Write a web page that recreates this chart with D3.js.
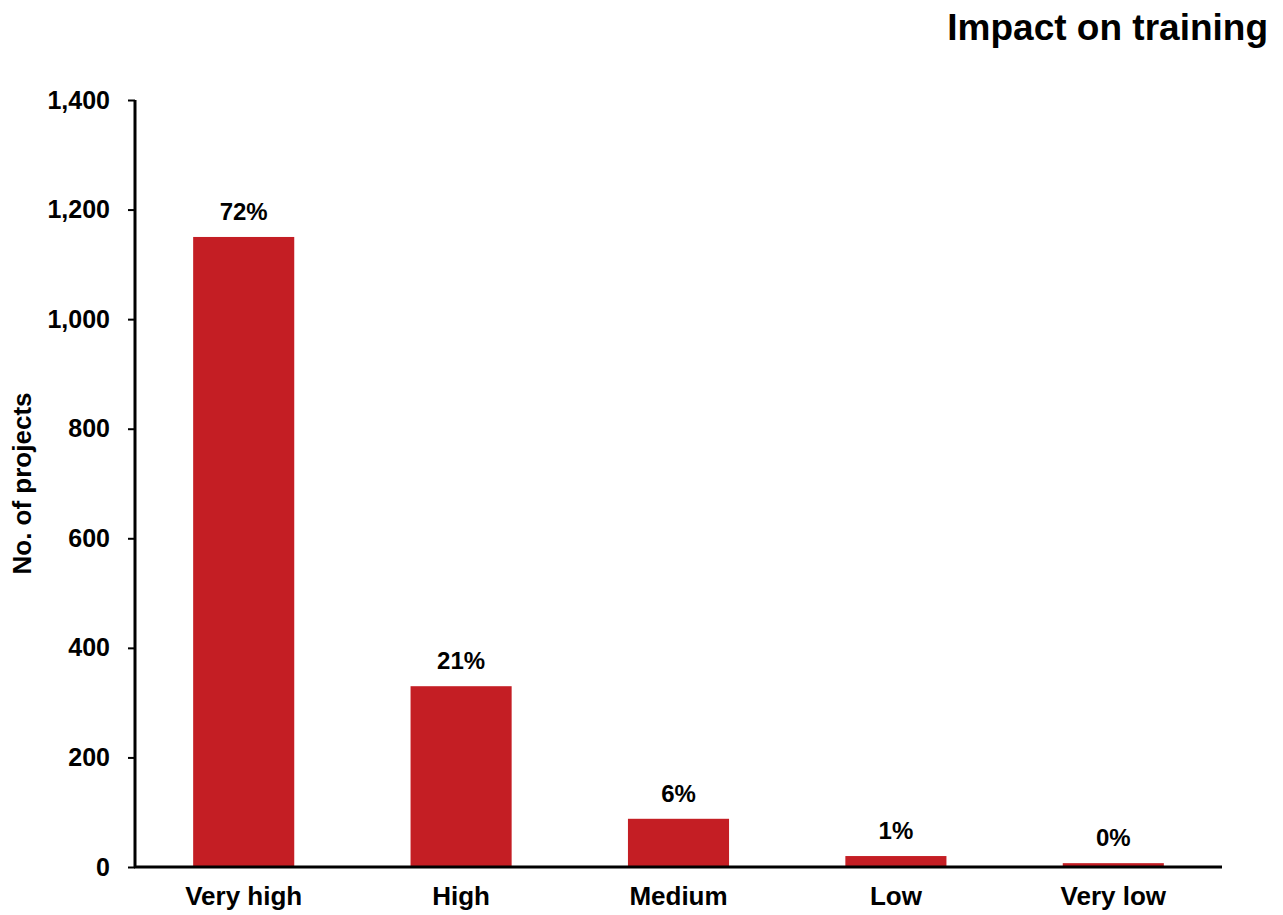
<!DOCTYPE html>
<html>
<head>
<meta charset="utf-8">
<script src="https://cdn.jsdelivr.net/npm/d3@7/dist/d3.min.js"></script>
<style>
  html, body { margin: 0; padding: 0; background: #fff; }
  svg { display: block; font-family: "Liberation Sans", Arial, sans-serif; }
</style>
</head>
<body>
<svg id="chart" width="1283" height="915"></svg>
<script>
// Projects by rated impact on training
const categories = ["Very high", "High", "Medium", "Low", "Very low"];
const projectCounts = [1150, 330, 88, 20, 7];
const shareLabels = ["72%", "21%", "6%", "1%", "0%"];
const yTicks = [0, 200, 400, 600, 800, 1000, 1200, 1400];

const svg = d3.select("#chart");
const margin = { left: 135, right: 61, top: 100, bottom: 48 };
const W = 1283, H = 915;
const x0 = margin.left, x1 = W - margin.right;
const y0 = H - margin.bottom, y1 = margin.top;
const FONT = "Liberation Sans, Arial, sans-serif";

const x = d3.scaleBand().domain(categories).range([x0, x1]).paddingInner(0.535).paddingOuter(0.2675);
const y = d3.scaleLinear().domain([0, 1400]).range([y0, y1]);

// Bars
svg.append("g").selectAll("rect").data(categories).join("rect")
  .attr("x", d => x(d))
  .attr("width", x.bandwidth())
  .attr("y", (d, i) => y(projectCounts[i]))
  .attr("height", (d, i) => y(0) - y(projectCounts[i]))
  .attr("fill", "#c41e24");

// Share labels above each bar
svg.append("g").selectAll("text").data(categories).join("text")
  .attr("x", d => x(d) + x.bandwidth() / 2)
  .attr("y", (d, i) => y(projectCounts[i]) - 17)
  .attr("text-anchor", "middle")
  .attr("font-size", 24).attr("font-weight", "bold").attr("fill", "#000")
  .text((d, i) => shareLabels[i]);

// Y axis
const yAxis = svg.append("g").attr("transform", `translate(${x0},0)`)
  .call(d3.axisLeft(y).tickValues(yTicks).tickFormat(d3.format(",")).tickSize(7).tickPadding(18));
yAxis.select(".domain").attr("stroke", "#000").attr("stroke-width", 3).attr("d", `M0,${y1}V${y0}`);
yAxis.selectAll(".tick line").attr("stroke", "#000").attr("stroke-width", 2);
yAxis.selectAll(".tick text").attr("font-size", 25).attr("font-weight", "bold").attr("fill", "#000")
  .attr("font-family", FONT);

// X axis
const xAxis = svg.append("g").attr("transform", `translate(0,${y0})`)
  .call(d3.axisBottom(x).tickSize(0).tickPadding(20));
xAxis.select(".domain").attr("stroke", "#000").attr("stroke-width", 3).attr("d", `M${x0 - 1},0H${x1}`);
xAxis.selectAll(".tick text").attr("font-size", 26).attr("font-weight", "bold").attr("fill", "#000")
  .attr("font-family", FONT);

// Axis title
svg.append("text")
  .attr("transform", `translate(31,${(y0 + y1) / 2}) rotate(-90)`)
  .attr("text-anchor", "middle")
  .attr("font-size", 26).attr("font-weight", "bold").attr("fill", "#000")
  .text("No. of projects");

// Chart title
svg.append("text")
  .attr("x", 1268).attr("y", 40)
  .attr("text-anchor", "end")
  .attr("font-size", 37).attr("font-weight", "bold").attr("fill", "#000")
  .text("Impact on training");
</script>
</body>
</html>
